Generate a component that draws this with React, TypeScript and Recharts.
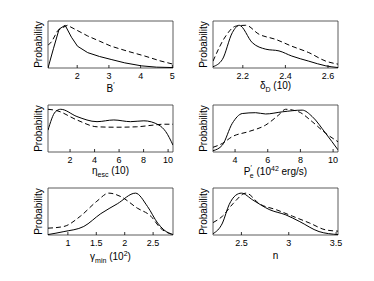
import { LineChart, Line, XAxis, YAxis, ReferenceArea } from "recharts"

// each series: [x, probability] (peak normalised to ~1)
const bSolid: [number, number][] = [
  [1.08, 0], [1.25, 0.45], [1.43, 0.91], [1.62, 1.0], [1.82, 0.72], [2.01, 0.51],
  [2.33, 0.36], [2.7, 0.27], [3.07, 0.2], [3.5, 0.12], [4.03, 0.05], [4.5, 0.02], [5.02, 0.01],
]
const bDashed: [number, number][] = [
  [1.08, 0.53], [1.2, 0.62], [1.38, 0.87], [1.5, 0.93], [1.69, 1.0], [2.0, 0.88],
  [2.33, 0.75], [2.7, 0.63], [3.07, 0.51], [3.6, 0.39], [4.13, 0.28], [4.6, 0.17], [5.02, 0.09],
]
const deltaSolid: [number, number][] = [
  [2.06, 0.03], [2.104, 0.2], [2.151, 0.83], [2.183, 1.0], [2.245, 0.59], [2.308, 0.44],
  [2.37, 0.4], [2.43, 0.28], [2.51, 0.16], [2.59, 0.05], [2.647, 0.01],
]
const deltaDashed: [number, number][] = [
  [2.06, 0.16], [2.12, 0.75], [2.167, 0.98], [2.214, 1.0], [2.276, 0.79], [2.354, 0.67],
  [2.43, 0.51], [2.51, 0.36], [2.59, 0.16], [2.647, 0.09],
]
const etaSolid: [number, number][] = [
  [0.2, 0.51], [0.8, 0.94], [1.24, 1.0], [2.56, 0.83], [4.2, 0.71], [5.57, 0.75],
  [6.93, 0.71], [8.02, 0.73], [9.25, 0.63], [9.8, 0.48], [10.4, 0.16],
]
const etaDashed: [number, number][] = [
  [0.2, 1.0], [0.9, 0.97], [2.56, 0.75], [4.2, 0.59], [5.8, 0.58], [7.44, 0.59],
  [8.8, 0.63], [9.6, 0.65], [10.4, 0.65],
]
const powerSolid: [number, number][] = [
  [2.65, 0.03], [3.22, 0.16], [3.83, 0.67], [4.44, 0.9], [5.26, 0.92], [5.87, 0.89],
  [6.89, 0.94], [8.11, 0.98], [8.72, 0.83], [9.54, 0.44], [10.3, 0.05],
]
const powerDashed: [number, number][] = [
  [2.65, 0.11], [3.22, 0.2], [3.83, 0.36], [4.85, 0.48], [5.87, 0.63], [6.68, 0.87],
  [7.09, 1.0], [7.9, 0.94], [8.72, 0.71], [9.54, 0.44], [10.3, 0.24],
]
const gammaSolid: [number, number][] = [
  [0.65, 0.01], [0.93, 0.08], [1.28, 0.2], [1.58, 0.5], [1.87, 0.73], [2.19, 0.98],
  [2.4, 0.67], [2.58, 0.28], [2.69, 0.12], [2.85, 0.01],
]
const gammaDashed: [number, number][] = [
  [0.65, 0.16], [0.93, 0.2], [1.22, 0.44], [1.51, 0.79], [1.72, 0.98], [1.93, 0.9],
  [2.22, 0.63], [2.46, 0.44], [2.63, 0.16], [2.85, 0.01],
]
const nSolid: [number, number][] = [
  [2.2, 0.03], [2.3, 0.28], [2.37, 0.71], [2.44, 0.93], [2.5, 0.98], [2.62, 0.82],
  [2.8, 0.59], [2.97, 0.47], [3.11, 0.32], [3.32, 0.08], [3.52, 0.01],
]
const nDashed: [number, number][] = [
  [2.2, 0.29], [2.3, 0.44], [2.41, 0.73], [2.55, 0.98], [2.69, 0.73], [2.87, 0.59],
  [3.04, 0.44], [3.22, 0.28], [3.39, 0.12], [3.52, 0.09],
]

const bTicks = [2, 3, 4, 5]
const deltaTicks = [2.2, 2.4, 2.6]
const etaTicks = [2, 4, 6, 8, 10]
const powerTicks = [4, 6, 8, 10]
const gammaTicks = [1, 1.5, 2, 2.5]
const nTicks = [2.5, 3, 3.5]

const FONT = "'Liberation Sans', Arial, sans-serif"
const W = 163
const H = 87

const sup = { fontSize: 7 }

const titles: Record<string, (cx: number, y: number) => any> = {
  b: (cx, y) => (
    <text x={cx} y={y} textAnchor="middle" fontSize={10} fontFamily={FONT}>
      B<tspan {...sup} dy={-5}>′</tspan>
    </text>
  ),
  delta: (cx, y) => (
    <text x={cx} y={y} textAnchor="middle" fontSize={10} fontFamily={FONT}>
      δ<tspan {...sup} dy={3}>D</tspan>
      <tspan dy={-3}> (10)</tspan>
    </text>
  ),
  eta: (cx, y) => (
    <text x={cx} y={y} textAnchor="middle" fontSize={10} fontFamily={FONT}>
      η<tspan {...sup} dy={3}>esc</tspan>
      <tspan dy={-3}> (10)</tspan>
    </text>
  ),
  power: (cx, y) => (
    <text x={cx} y={y} textAnchor="middle" fontSize={10} fontFamily={FONT}>
      P<tspan {...sup} dy={-5}>′</tspan>
      <tspan {...sup} dx={-2} dy={8}>e</tspan>
      <tspan dy={-3}> (10</tspan>
      <tspan {...sup} dy={-4}>42</tspan>
      <tspan dy={4}> erg/s)</tspan>
    </text>
  ),
  gamma: (cx, y) => (
    <text x={cx} y={y} textAnchor="middle" fontSize={10} fontFamily={FONT}>
      γ<tspan {...sup} dy={3}>min</tspan>
      <tspan dy={-3}> (10</tspan>
      <tspan {...sup} dy={-4}>2</tspan>
      <tspan dy={4}>)</tspan>
    </text>
  ),
  n: (cx, y) => (
    <text x={cx} y={y} textAnchor="middle" fontSize={10} fontFamily={FONT}>
      n
    </text>
  ),
}

const noTick = () => <g />

function Panel(props: {
  left: number
  top: number
  domain: [number, number]
  ticks: number[]
  solid: [number, number][]
  dashed: [number, number][]
  title: string
  titleDy: number
  curve: "linear" | "monotone"
}) {
  const { left, top, domain, ticks, solid, dashed, title, titleDy, curve } = props
  const rows = (pts: [number, number][]) => pts.map(([x, y]) => ({ x, y }))
  return (
    <div style={{ position: "absolute", left: left - 30, top: top - 5 }}>
      <LineChart width={W} height={H} margin={{ top: 5, right: 8, left: 0, bottom: 0 }}>
        <XAxis
          type="number"
          dataKey="x"
          domain={domain}
          ticks={ticks}
          allowDataOverflow
          height={35}
          axisLine={false}
          tickSize={-3}
          tickMargin={8}
          tickLine={{ stroke: "#000", strokeWidth: 0.8 }}
          tick={{ fontSize: 9, fill: "#000", fontFamily: FONT }}
          label={{
            content: (p: any) =>
              titles[title](p.viewBox.x + p.viewBox.width / 2, p.viewBox.y + titleDy),
          }}
        />
        <XAxis
          xAxisId="top"
          orientation="top"
          type="number"
          dataKey="x"
          domain={domain}
          ticks={ticks}
          allowDataOverflow
          height={0}
          axisLine={false}
          tickSize={-3}
          tickLine={{ stroke: "#000", strokeWidth: 0.8 }}
          tick={noTick}
        />
        <YAxis
          type="number"
          domain={[0, 1.1]}
          allowDataOverflow
          width={30}
          tick={false}
          axisLine={false}
          tickLine={false}
          label={{
            content: (p: any) => {
              const cx = p.viewBox.x + p.viewBox.width - 10
              const cy = p.viewBox.y + p.viewBox.height / 2
              return (
                <text
                  x={cx}
                  y={cy}
                  transform={`rotate(-90, ${cx}, ${cy})`}
                  textAnchor="middle"
                  dominantBaseline="central"
                  fontSize={10}
                  fontFamily={FONT}
                >
                  Probability
                </text>
              )
            },
          }}
        />
        <ReferenceArea
          x1={domain[0]}
          x2={domain[1]}
          y1={0}
          y2={1.1}
          fill="none"
          stroke="#333"
          strokeWidth={0.8}
          ifOverflow="visible"
        />
        <Line
          data={rows(dashed)}
          dataKey="y"
          type={curve}
          stroke="#000"
          strokeWidth={1}
          strokeDasharray="5 3"
          dot={false}
          isAnimationActive={false}
        />
        <Line
          data={rows(solid)}
          dataKey="y"
          type={curve}
          stroke="#000"
          strokeWidth={1}
          dot={false}
          isAnimationActive={false}
        />
      </LineChart>
    </div>
  )
}

export default function App() {
  return (
    <div
      style={{
        position: "absolute",
        left: 0,
        top: 0,
        width: 374,
        height: 281,
        background: "#fff",
        fontFamily: FONT,
      }}
    >
      <Panel left={48} top={21} domain={[1.08, 5.02]} ticks={bTicks} solid={bSolid} dashed={bDashed} title="b" titleDy={24} curve="linear" />
      <Panel left={213} top={21} domain={[2.06, 2.647]} ticks={deltaTicks} solid={deltaSolid} dashed={deltaDashed} title="delta" titleDy={21} curve="monotone" />
      <Panel left={48} top={105} domain={[0.2, 10.4]} ticks={etaTicks} solid={etaSolid} dashed={etaDashed} title="eta" titleDy={22} curve="monotone" />
      <Panel left={213} top={105} domain={[2.65, 10.3]} ticks={powerTicks} solid={powerSolid} dashed={powerDashed} title="power" titleDy={23} curve="monotone" />
      <Panel left={48} top={188} domain={[0.65, 2.85]} ticks={gammaTicks} solid={gammaSolid} dashed={gammaDashed} title="gamma" titleDy={25} curve="monotone" />
      <Panel left={213} top={188} domain={[2.2, 3.52]} ticks={nTicks} solid={nSolid} dashed={nDashed} title="n" titleDy={24} curve="monotone" />
    </div>
  )
}
